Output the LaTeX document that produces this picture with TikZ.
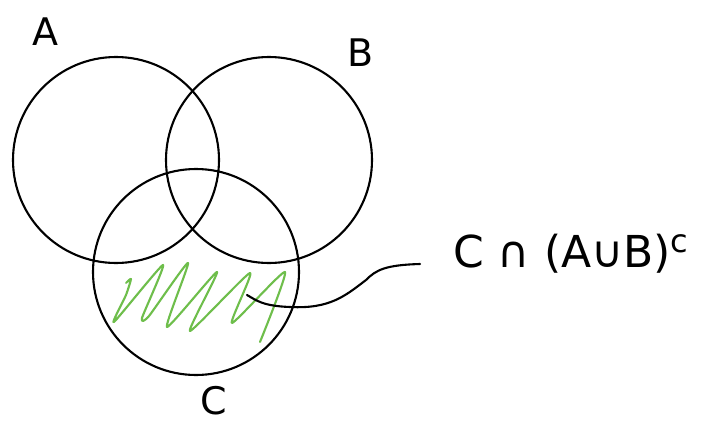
\documentclass[tikz,border=0pt]{standalone}
\usepackage{fontspec}
\setmainfont{DejaVu Sans}
\begin{document}
\begin{tikzpicture}[x=1pt,y=-1pt,
  setline/.style={line width=2.1pt,black},
  hatch/.style={line width=2.1pt,draw={rgb,255:red,110;green,190;blue,75},line cap=round,line join=round},
  lead/.style={line width=2.1pt,black,line cap=round},
  setlabel/.style={font=\fontsize{38}{38}\selectfont,inner sep=0pt}]
\useasboundingbox[fill=white] (0,0) rectangle (713,426);
\node[setline,draw,circle,minimum size=206pt,inner sep=0pt] (A) at (116,160) {};
\node[setline,draw,circle,minimum size=206pt,inner sep=0pt] (B) at (269,160) {};
\node[setline,draw,circle,minimum size=206pt,inner sep=0pt] (C) at (196,272) {};
\node[setlabel] (la) at (45,32) {A};
\node[setlabel] (lb) at (361,53) {B};
\node[setlabel] (lc) at (214,401) {C};
\node[font=\fontsize{44}{44}\selectfont,inner sep=0pt,anchor=west] (expr) at (453,254) {C ∩ (A∪B)\raisebox{15pt}{\fontsize{32}{32}\selectfont c}};
\draw[hatch] plot[smooth,tension=0.35] coordinates {(126,283) (131,279) (126,295) (114,322) (163,265) (142,318) (149,316) (188,263) (167,327) (217,272) (190,331) (250,273) (232,323) (285,272) (260,342)};
\coordinate (hs) at (247,295);
\coordinate (he) at (420,264);
\draw[lead] (hs) .. controls (256,300) and (262,306) .. (290,307) .. controls (330,309) and (345,296) .. (366,280) .. controls (376,270) and (385,265) .. (he);
\end{tikzpicture}
\end{document}
